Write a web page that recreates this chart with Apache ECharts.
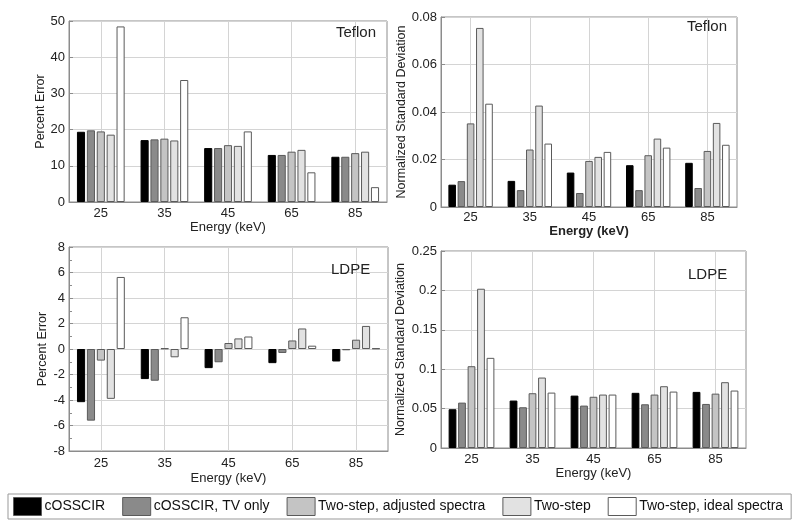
<!DOCTYPE html>
<html>
<head>
<meta charset="utf-8">
<script src="https://cdn.jsdelivr.net/npm/echarts@6/dist/echarts.min.js"></script>
<style>
html,body{margin:0;padding:0;background:#fff;}
#chart{width:800px;height:528px;}
</style>
</head>
<body>
<div id="chart"></div>
<script>
// ---- data ----
const categories = ['25', '35', '45', '65', '85'];
const seriesNames = ['cOSSCIR', 'cOSSCIR, TV only', 'Two-step, adjusted spectra', 'Two-step', 'Two-step, ideal spectra'];

// Teflon percent error
const teflonErr_cOSSCIR = [19.4, 17.1, 14.9, 13.0, 12.5];
const teflonErr_TV      = [19.8, 17.3, 14.9, 13.0, 12.5];
const teflonErr_adj     = [19.5, 17.5, 15.7, 13.9, 13.5];
const teflonErr_two     = [18.6, 17.0, 15.5, 14.4, 13.9];
const teflonErr_ideal   = [48.5, 33.7, 19.5, 8.2, 4.1];

// Teflon normalized standard deviation
const teflonStd_cOSSCIR = [0.0094, 0.0110, 0.0145, 0.0176, 0.0186];
const teflonStd_TV      = [0.0109, 0.0071, 0.0059, 0.0071, 0.0080];
const teflonStd_adj     = [0.0352, 0.0242, 0.0194, 0.0218, 0.0236];
const teflonStd_two     = [0.0754, 0.0427, 0.0211, 0.0288, 0.0354];
const teflonStd_ideal   = [0.0435, 0.0267, 0.0232, 0.0250, 0.0262];

// LDPE percent error
const ldpeErr_cOSSCIR = [-4.17, -2.36, -1.50, -1.11, -0.98];
const ldpeErr_TV      = [-5.62, -2.49, -1.04, -0.31, -0.10];
const ldpeErr_adj     = [-0.91, 0.05, 0.47, 0.67, 0.73];
const ldpeErr_two     = [-3.91, -0.65, 0.83, 1.61, 1.81];
const ldpeErr_ideal   = [5.65, 2.49, 0.98, 0.26, 0.05];

// LDPE normalized standard deviation
const ldpeStd_cOSSCIR = [0.0492, 0.0602, 0.0665, 0.0700, 0.0712];
const ldpeStd_TV      = [0.0576, 0.0517, 0.0538, 0.0555, 0.0559];
const ldpeStd_adj     = [0.1038, 0.0695, 0.0650, 0.0678, 0.0690];
const ldpeStd_two     = [0.2021, 0.0894, 0.0678, 0.0784, 0.0835];
const ldpeStd_ideal   = [0.1144, 0.0703, 0.0678, 0.0716, 0.0729];

// ---- styling ----
const FONT = '"Liberation Sans", Arial, sans-serif';
const colors = ['#000000', '#8a8a8a', '#c4c4c4', '#e2e2e2', '#ffffff'];
const GRID_COLOR = '#d4d4d4';

const panels = [
  { data: [teflonErr_cOSSCIR, teflonErr_TV, teflonErr_adj, teflonErr_two, teflonErr_ideal],
    grid: {left: 69, top: 21, width: 318, height: 181},
    y: {min: 0, max: 50, interval: 10, name: 'Percent Error', nameGap: 19, minor: false},
    xLabelMargin: 5, xNameGap: 17, xNameBold: false },
  { data: [teflonStd_cOSSCIR, teflonStd_TV, teflonStd_adj, teflonStd_two, teflonStd_ideal],
    grid: {left: 441, top: 17, width: 296, height: 190},
    y: {min: 0, max: 0.08, interval: 0.02, name: 'Normalized Standard Deviation', nameGap: 30, minor: false},
    xLabelMargin: 4, xNameGap: 17, xNameBold: true },
  { data: [ldpeErr_cOSSCIR, ldpeErr_TV, ldpeErr_adj, ldpeErr_two, ldpeErr_ideal],
    grid: {left: 69, top: 247, width: 319, height: 204},
    y: {min: -8, max: 8, interval: 2, name: 'Percent Error', nameGap: 19, minor: true},
    xLabelMargin: 6, xNameGap: 21, xNameBold: false },
  { data: [ldpeStd_cOSSCIR, ldpeStd_TV, ldpeStd_adj, ldpeStd_two, ldpeStd_ideal],
    grid: {left: 441, top: 251, width: 305, height: 197},
    y: {min: 0, max: 0.25, interval: 0.05, name: 'Normalized Standard Deviation', nameGap: 34, minor: false},
    xLabelMargin: 5, xNameGap: 19, xNameBold: false }
];

const labels = [
  {text: 'Teflon', left: 336, top: 25},
  {text: 'Teflon', left: 687, top: 19},
  {text: 'LDPE', left: 331, top: 262},
  {text: 'LDPE', left: 688, top: 267}
];

const grids = [], xAxes = [], yAxes = [], series = [];
panels.forEach((p, i) => {
  grids.push(Object.assign({show: true, borderColor: '#8c8c8c', borderWidth: 1}, p.grid));
  xAxes.push({
    type: 'category', gridIndex: i, data: categories,
    name: 'Energy (keV)', nameLocation: 'middle', nameGap: p.xNameGap,
    nameTextStyle: {fontFamily: FONT, fontSize: 13, color: '#222', fontWeight: p.xNameBold ? 'bold' : 'normal'},
    axisLine: {show: true, onZero: false, lineStyle: {color: '#8c8c8c'}},
    // inside ticks at the label positions, as tall as the plot: vertical grid lines through category centres
    axisTick: {show: true, inside: true, alignWithLabel: true, interval: 0, length: p.grid.height,
      lineStyle: {color: GRID_COLOR, width: 1}},
    axisLabel: {fontFamily: FONT, fontSize: 13, color: '#222', margin: p.xLabelMargin},
    splitLine: {show: false}
  });
  yAxes.push({
    type: 'value', gridIndex: i, min: p.y.min, max: p.y.max, interval: p.y.interval,
    name: p.y.name, nameLocation: 'middle', nameGap: p.y.nameGap,
    nameTextStyle: {fontFamily: FONT, fontSize: 12.5, color: '#222'},
    axisLine: {show: true, lineStyle: {color: '#8c8c8c'}},
    axisTick: {show: true, inside: true, length: 4, lineStyle: {color: '#8c8c8c'}},
    minorTick: {show: p.y.minor, splitNumber: 2, length: 3, lineStyle: {color: '#8c8c8c'}},
    axisLabel: {fontFamily: FONT, fontSize: 13, color: '#222', margin: 4},
    splitLine: {show: true, lineStyle: {color: GRID_COLOR, width: 1}}
  });
  p.data.forEach((arr, k) => {
    series.push({
      type: 'bar', name: seriesNames[k], xAxisIndex: i, yAxisIndex: i,
      data: arr, barCategoryGap: '25%', barGap: '22%', z: 3,
      itemStyle: {color: colors[k], borderColor: k === 0 ? '#000' : '#5a5a5a', borderWidth: 1},
      emphasis: {disabled: true}, animation: false
    });
  });
});

const chart = echarts.init(document.getElementById('chart'), null, {renderer: 'canvas'});
chart.setOption({
  backgroundColor: '#fff',
  animation: false,
  title: labels.map(l => ({text: l.text, left: l.left, top: l.top, padding: 0,
    textStyle: {fontFamily: FONT, fontSize: 15, fontWeight: 'normal', color: '#222'}})),
  legend: {
    left: 8, top: 494, padding: [3, 8, 3, 5], itemGap: 17,
    itemWidth: 28, itemHeight: 18, icon: 'rect',
    borderColor: '#999', borderWidth: 1,
    textStyle: {fontFamily: FONT, fontSize: 14, color: '#111', padding: [0, 0, 0, -2]},
    data: seriesNames.map((n, k) => ({name: n, icon: 'rect', itemStyle: {color: colors[k], borderColor: '#5a5a5a', borderWidth: 1}})),
    selectedMode: false
  },
  grid: grids, xAxis: xAxes, yAxis: yAxes, series: series
});
</script>
</body>
</html>
